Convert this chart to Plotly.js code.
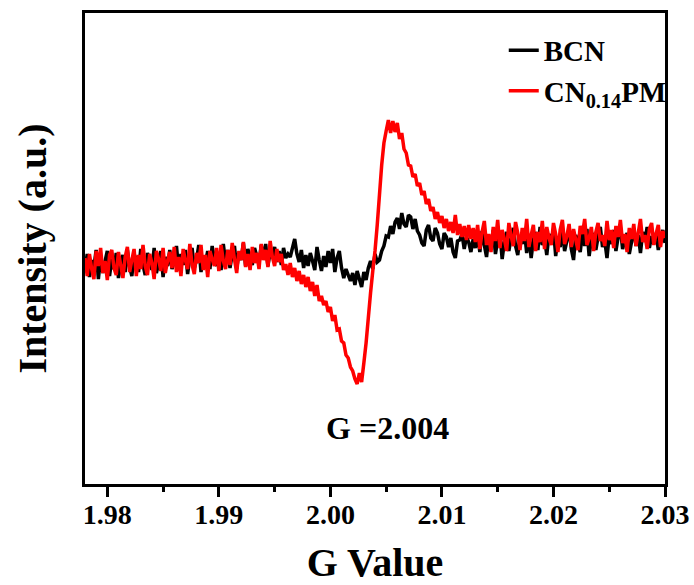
<!DOCTYPE html>
<html>
<head>
<meta charset="utf-8">
<script src="https://cdn.plot.ly/plotly-3.0.1.min.js"></script>
<style>html,body{margin:0;padding:0;background:#fff;}#chart{width:694px;height:585px;}</style>
</head>
<body>
<div id="chart"></div>
<script>
// G value grid (shared by both spectra)
var gValue = [
1.9780,1.9782,1.9784,1.9786,1.9788,1.9790,1.9792,1.9794,1.9796,1.9798,
1.9800,1.9802,1.9804,1.9806,1.9808,1.9810,1.9812,1.9814,1.9816,1.9818,
1.9820,1.9822,1.9824,1.9826,1.9828,1.9830,1.9832,1.9834,1.9836,1.9838,
1.9840,1.9842,1.9844,1.9846,1.9848,1.9850,1.9852,1.9854,1.9856,1.9858,
1.9860,1.9862,1.9864,1.9866,1.9868,1.9870,1.9872,1.9874,1.9876,1.9878,
1.9880,1.9882,1.9884,1.9886,1.9888,1.9890,1.9892,1.9894,1.9896,1.9898,
1.9900,1.9902,1.9904,1.9906,1.9908,1.9910,1.9912,1.9914,1.9916,1.9918,
1.9920,1.9922,1.9924,1.9926,1.9928,1.9930,1.9932,1.9934,1.9936,1.9938,
1.9940,1.9942,1.9944,1.9946,1.9948,1.9950,1.9952,1.9954,1.9956,1.9958,
1.9960,1.9962,1.9964,1.9966,1.9968,1.9970,1.9972,1.9974,1.9976,1.9978,
1.9980,1.9982,1.9984,1.9986,1.9988,1.9990,1.9992,1.9994,1.9996,1.9998,
2.0000,2.0002,2.0004,2.0006,2.0008,2.0010,2.0012,2.0014,2.0016,2.0018,
2.0020,2.0022,2.0024,2.0026,2.0028,2.0030,2.0032,2.0034,2.0036,2.0038,
2.0040,2.0042,2.0044,2.0046,2.0048,2.0050,2.0052,2.0054,2.0056,2.0058,
2.0060,2.0062,2.0064,2.0066,2.0068,2.0070,2.0072,2.0074,2.0076,2.0078,
2.0080,2.0082,2.0084,2.0086,2.0088,2.0090,2.0092,2.0094,2.0096,2.0098,
2.0100,2.0102,2.0104,2.0106,2.0108,2.0110,2.0112,2.0114,2.0116,2.0118,
2.0120,2.0122,2.0124,2.0126,2.0128,2.0130,2.0132,2.0134,2.0136,2.0138,
2.0140,2.0142,2.0144,2.0146,2.0148,2.0150,2.0152,2.0154,2.0156,2.0158,
2.0160,2.0162,2.0164,2.0166,2.0168,2.0170,2.0172,2.0174,2.0176,2.0178,
2.0180,2.0182,2.0184,2.0186,2.0188,2.0190,2.0192,2.0194,2.0196,2.0198,
2.0200,2.0202,2.0204,2.0206,2.0208,2.0210,2.0212,2.0214,2.0216,2.0218,
2.0220,2.0222,2.0224,2.0226,2.0228,2.0230,2.0232,2.0234,2.0236,2.0238,
2.0240,2.0242,2.0244,2.0246,2.0248,2.0250,2.0252,2.0254,2.0256,2.0258,
2.0260,2.0262,2.0264,2.0266,2.0268,2.0270,2.0272,2.0274,2.0276,2.0278,
2.0280,2.0282,2.0284,2.0286,2.0288,2.0290,2.0292,2.0294,2.0296,2.0298,
2.0300
];

// BCN intensity (a.u.)
var bcnIntensity = [
-7,9,-14,3,-4,13,-16,6,-10,2,12,-13,4,-6,10,-15,0,8,-9,13,
-4,-13,9,3,-9,14,-2,-12,10,4,-7,15,-10,0,12,-14,6,-3,13,-6,
2,17,-7,9,-2,13,-11,6,15,-5,3,18,-9,7,0,12,-6,17,4,-3,
10,-7,19,1,13,-5,9,17,-6,11,3,20,-3,14,5,-2,15,7,0,18,
4,19,-3,11,7,16,1,12,-2,15,5,9,
6,15,24,9,1,13,-5,8,-3,10,
2,-7,16,3,-8,7,-4,12,0,14,
-9,5,12,-5,-15,-6,-12,-18,-10,-22,
-8,-16,-24,-9,-17,-5,2,-6,9,1,
3,12,17,27,26,37,29,41,45,34,50,39,36,48,46,34,44,32,28,20,
17,33,38,25,22,35,30,19,14,30,26,16,25,11,5,22,23,29,14,26,
21,11,24,15,
28,11,32,18,6,27,15,33,9,23,30,4,21,31,12,25,35,17,8,27,
19,32,10,28,5,23,31,13,36,18,25,8,29,20,34,7,26,16,32,12,
22,35,14,3,28,20,11,31,17,34,7,24,30,13,26,36,16,22,5,28,
19,33,12,26,35,14,24,30,9,21,34,17,28,10,31,22,36,15,27,19,
30,13,25,33,20
];

// CN0.14PM intensity (a.u.)
var cnpmIntensity = [
5,-13,9,-6,-16,12,-3,15,-10,2,-17,8,13,-5,-12,11,-2,-15,6,16,
-9,3,14,-13,8,-6,18,-3,-12,9,0,-16,12,4,-8,15,-10,2,11,-5,
16,-9,6,-13,14,3,-6,19,-2,-11,10,0,18,-7,8,-14,12,4,-3,15,
-8,18,2,-6,13,-2,20,4,-10,12,3,21,-4,9,-7,16,0,10,-6,19,
3,13,-4,22,6,-3,14,1,9,-7,
-1,-12,0,-14,-5,-18,-8,-21,-12,-24,
-14,-28,-19,-33,-22,-38,-33,-42,-38,-49,
-44,-58,-52,-67,-66,-78,-80,-92,-95,-104,
-108,-116,-121,-110,-119,-100,-80,-55,-30,-8,
12,38,68,98,120,132,143,130,142,131,
140,124,130,114,110,98,97,86,
89,77,80,68,72,59,64,52,56,44,51,40,47,35,44,32,41,30,48,28,
39,26,37,23,38,24,35,21,
38,14,31,42,18,29,11,36,22,43,15,33,24,12,40,27,17,41,30,13,
35,22,44,16,28,38,12,31,21,42,14,36,25,18,40,29,11,33,43,19,
27,39,16,34,23,13,37,29,44,18,25,36,12,31,40,22,28,17,42,23,
33,15,37,26,43,20,29,11,35,24,39,17,30,44,21,28,14,34,40,18,
29,38,16,32,25
];

var seriesNames = ['BCN', 'CN<sub>0.14</sub>PM'];
var xTickVals = [1.98, 1.99, 2.00, 2.01, 2.02, 2.03];
var xTickText = ['1.98', '1.99', '2.00', '2.01', '2.02', '2.03'];

var serif = 'Liberation Serif, Times New Roman, serif';

var traces = [
  {x: gValue, y: bcnIntensity, name: seriesNames[0], type: 'scatter', mode: 'lines',
   line: {color: '#000000', width: 3.5, simplify: false}},
  {x: gValue, y: cnpmIntensity, name: seriesNames[1], type: 'scatter', mode: 'lines',
   line: {color: '#ff0000', width: 3.5, simplify: false}}
];

var layout = {
  width: 694, height: 585,
  margin: {l: 85, r: 29, t: 13, b: 101, pad: 0},
  paper_bgcolor: '#ffffff', plot_bgcolor: '#ffffff',
  showlegend: true,
  legend: {
    x: 0.722, y: 0.975, xanchor: 'left', yanchor: 'top',
    bgcolor: 'rgba(0,0,0,0)', borderwidth: 0,
    font: {family: serif, size: 29, color: '#000', weight: 'bold'},
    tracegroupgap: 0, itemwidth: 30
  },
  xaxis: {
    range: [1.978, 2.03],
    showline: true, linecolor: '#000', linewidth: 3, mirror: true,
    showgrid: false, zeroline: false,
    tickmode: 'array', tickvals: xTickVals, ticktext: xTickText,
    ticks: 'outside', ticklen: 10, tickwidth: 3, tickcolor: '#000',
    ticklabelstandoff: -7,
    minor: {dtick: 0.005, tick0: 1.975, ticks: 'outside', ticklen: 5, tickwidth: 3, tickcolor: '#000', showgrid: false},
    tickfont: {family: serif, size: 28, color: '#000', weight: 'bold'},
    title: {text: 'G Value', font: {family: serif, size: 40, color: '#000', weight: 'bold'}, standoff: 33}
  },
  yaxis: {
    range: [-221, 250],
    showline: true, linecolor: '#000', linewidth: 3, mirror: true,
    showgrid: false, zeroline: false,
    showticklabels: false, ticks: '',
    title: {text: 'Intensity (a.u.)', font: {family: serif, size: 40, color: '#000', weight: 'bold'}, standoff: 24}
  },
  annotations: [{
    text: 'G =2.004', xref: 'paper', yref: 'paper', x: 0.521, y: 0.119,
    xanchor: 'center', yanchor: 'middle', showarrow: false,
    font: {family: serif, size: 32, color: '#000', weight: 'bold'}
  }]
};

Plotly.newPlot('chart', traces, layout, {displayModeBar: false, staticPlot: true});
</script>
</body>
</html>
